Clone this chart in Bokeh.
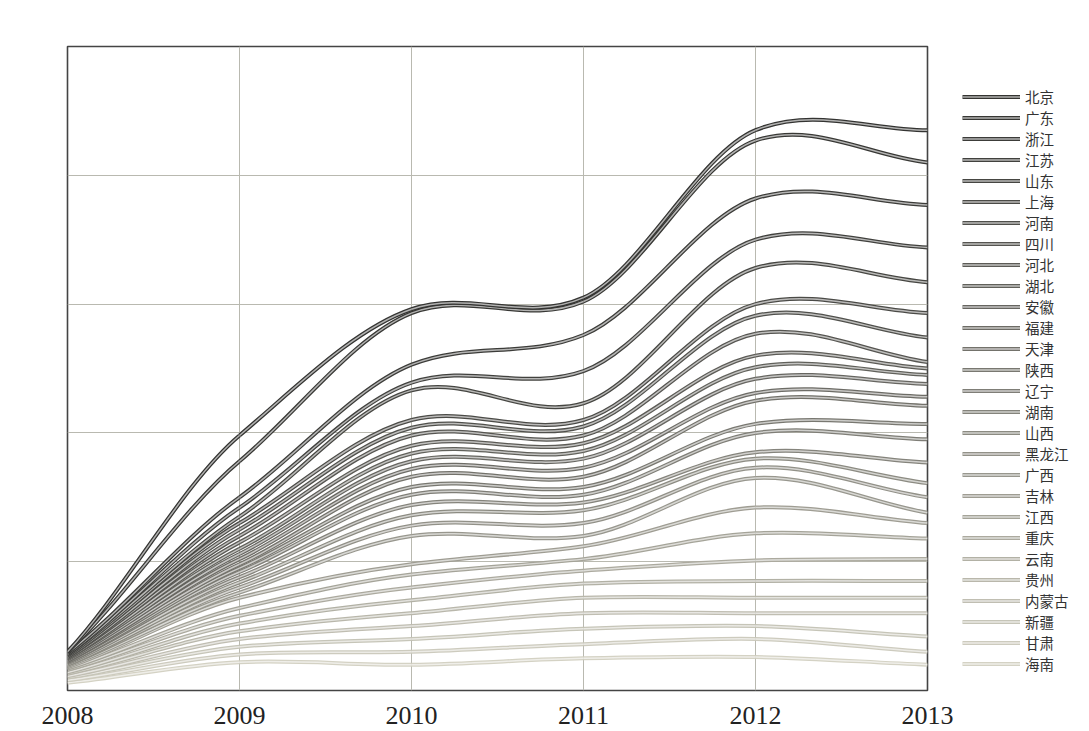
from bokeh.plotting import figure
from bokeh.models import FixedTicker, Legend, LegendItem, ColumnDataSource
from bokeh.embed import file_html
from bokeh.resources import INLINE

years = [2008, 2009, 2010, 2011, 2012, 2013]
provinces = ["北京", "广东", "浙江", "江苏", "山东", "上海", "河南", "四川", "河北", "湖北",
             "安徽", "福建", "天津", "陕西", "辽宁", "湖南", "山西", "黑龙江", "广西", "吉林",
             "江西", "重庆", "云南", "贵州", "内蒙古", "新疆", "甘肃", "海南"]

# values per year, one entry per province (same order as provinces)
v2008 = [0.30, 0.30, 0.29, 0.28, 0.28, 0.27, 0.26, 0.26, 0.25, 0.25, 0.24, 0.23, 0.23, 0.22,
         0.22, 0.21, 0.20, 0.20, 0.19, 0.18, 0.17, 0.16, 0.14, 0.13, 0.11, 0.10, 0.08, 0.06]
v2009 = [1.98, 1.78, 1.50, 1.42, 1.35, 1.30, 1.25, 1.20, 1.15, 1.10, 1.06, 1.02, 0.98, 0.95,
         0.92, 0.88, 0.84, 0.80, 0.76, 0.72, 0.64, 0.58, 0.52, 0.46, 0.40, 0.34, 0.28, 0.22]
v2010 = [2.96, 2.93, 2.53, 2.39, 2.33, 2.10, 2.04, 1.98, 1.90, 1.84, 1.78, 1.72, 1.66, 1.58,
         1.52, 1.44, 1.36, 1.28, 1.20, 0.98, 0.90, 0.80, 0.70, 0.60, 0.50, 0.40, 0.30, 0.20]
v2011 = [3.05, 3.02, 2.76, 2.48, 2.23, 2.10, 2.05, 1.98, 1.92, 1.86, 1.80, 1.73, 1.66, 1.58,
         1.52, 1.46, 1.40, 1.30, 1.20, 1.12, 1.02, 0.93, 0.83, 0.72, 0.60, 0.48, 0.36, 0.25]
v2012 = [4.35, 4.27, 3.82, 3.50, 3.28, 3.00, 2.91, 2.77, 2.60, 2.51, 2.42, 2.31, 2.25, 2.07,
         2.00, 1.85, 1.80, 1.73, 1.65, 1.42, 1.22, 1.01, 0.85, 0.72, 0.60, 0.50, 0.40, 0.26]
v2013 = [4.35, 4.10, 3.77, 3.44, 3.17, 2.93, 2.74, 2.55, 2.50, 2.45, 2.38, 2.28, 2.21, 2.07,
         1.95, 1.77, 1.61, 1.50, 1.38, 1.30, 1.18, 1.02, 0.85, 0.72, 0.60, 0.42, 0.30, 0.20]
year_values = [v2008, v2009, v2010, v2011, v2012, v2013]
year_ticks = [2008, 2009, 2010, 2011, 2012, 2013]
y_grid_ticks = [1, 2, 3, 4]


def bezier_source(xs, ys, tension=0.85):
    n = len(xs)
    m = []
    for i in range(n):
        if i == 0:
            s = (ys[1] - ys[0]) / (xs[1] - xs[0])
        elif i == n - 1:
            s = (ys[-1] - ys[-2]) / (xs[-1] - xs[-2])
        else:
            s = (ys[i + 1] - ys[i - 1]) / (xs[i + 1] - xs[i - 1])
        m.append(s * tension)
    d = dict(x0=[], y0=[], x1=[], y1=[], cx0=[], cy0=[], cx1=[], cy1=[])
    for i in range(n - 1):
        h = xs[i + 1] - xs[i]
        d["x0"].append(xs[i]); d["y0"].append(ys[i])
        d["x1"].append(xs[i + 1]); d["y1"].append(ys[i + 1])
        d["cx0"].append(xs[i] + h / 3); d["cy0"].append(ys[i] + m[i] * h / 3)
        d["cx1"].append(xs[i + 1] - h / 3); d["cy1"].append(ys[i + 1] - m[i + 1] * h / 3)
    return ColumnDataSource(d)


def mix(c1, c2, t):
    return tuple(a + (b - a) * t for a, b in zip(c1, c2))


def hexc(c):
    return "#%02x%02x%02x" % tuple(int(round(v)) for v in c)


dark = (52, 52, 50)
light = (212, 210, 196)
white = (255, 255, 255)
n = len(provinces)

p = figure(frame_width=860, frame_height=644, width=1086, height=731,
           x_range=(2008, 2013), y_range=(0, 5),
           output_backend="svg", toolbar_location=None,
           min_border_left=67, min_border_top=46, min_border_right=159, min_border_bottom=41)
p.background_fill_color = "white"
p.border_fill_color = "white"
p.outline_line_color = "#444444"
p.outline_line_width = 1.6

p.xaxis.ticker = FixedTicker(ticks=year_ticks)
p.xgrid.ticker = FixedTicker(ticks=year_ticks)
p.ygrid.ticker = FixedTicker(ticks=y_grid_ticks)
p.yaxis.visible = False
p.xaxis.axis_line_color = None
p.xaxis.major_tick_line_color = None
p.xaxis.minor_tick_line_color = None
p.xaxis.major_label_standoff = 10
p.xaxis.major_label_text_font = "Liberation Serif"
p.xaxis.major_label_text_font_size = "26px"
p.xaxis.major_label_text_color = "#222222"
p.grid.grid_line_color = "#b9b9b0"
p.grid.grid_line_width = 1

renderers = {}
for i in reversed(range(n)):
    ys = [vals[i] for vals in year_values]
    src = bezier_source(years, ys)
    t = (i / (n - 1)) ** 1.15
    base = mix(dark, light, t)
    col = hexc(base)
    inner = hexc(mix(base, white, 0.62))
    r1 = p.bezier(x0="x0", y0="y0", x1="x1", y1="y1", cx0="cx0", cy0="cy0", cx1="cx1", cy1="cy1",
                  source=src, line_color=col, line_width=4.0)
    r2 = p.bezier(x0="x0", y0="y0", x1="x1", y1="y1", cx0="cx0", cy0="cy0", cx1="cx1", cy1="cy1",
                  source=src, line_color=inner, line_width=1.5)
    renderers[i] = (r1, r2)

items = [LegendItem(label=provinces[i], renderers=list(renderers[i])) for i in range(n)]
legend = Legend(items=items, location=(35, 16), margin=0, padding=0, spacing=0,
                glyph_width=58, glyph_height=21, label_height=21, label_standoff=5,
                label_text_font="Noto Sans CJK SC", label_text_font_size="14.5px",
                label_text_color="#333333", background_fill_alpha=0, border_line_color=None)
p.add_layout(legend, "right")

open("out.html", "w").write(file_html(p, INLINE))
